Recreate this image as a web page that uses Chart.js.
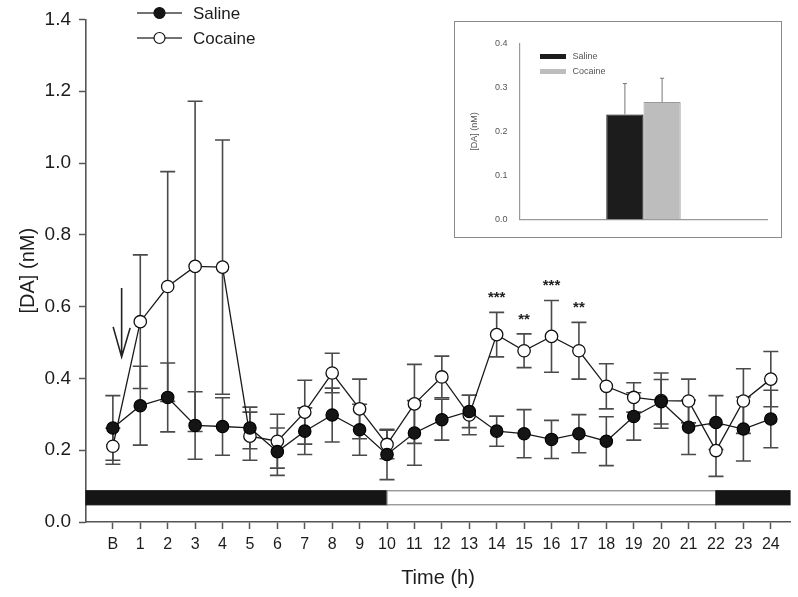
<!DOCTYPE html>
<html><head><meta charset="utf-8">
<script src="https://cdn.jsdelivr.net/npm/chart.js@4.4.0/dist/chart.umd.min.js"></script>
<style>
html,body{margin:0;padding:0;background:#fff;}
#wrap{position:relative;width:798px;height:597px;overflow:hidden;}
#main{position:absolute;left:0;top:0;}
#insetBox{position:absolute;left:454px;top:21px;width:326px;height:215px;border:1.5px solid #8a8a8a;background:#fff;}
#inset{position:absolute;left:0;top:0;}
</style></head><body>
<div id="wrap">
<canvas id="main" width="798" height="597"></canvas>
<div id="insetBox"><canvas id="inset" width="326" height="215"></canvas></div>
</div>
<script>
// ---------- data ----------
const xLabels = ['B','1','2','3','4','5','6','7','8','9','10','11','12','13','14','15','16','17','18','19','20','21','22','23','24'];
const salineMean = [0.262,0.324,0.347,0.269,0.266,0.262,0.196,0.253,0.298,0.257,0.188,0.248,0.285,0.308,0.253,0.246,0.230,0.246,0.225,0.294,0.335,0.264,0.277,0.259,0.287];
const salineSem  = [0.090,0.110,0.096,0.094,0.080,0.058,0.066,0.065,0.075,0.071,0.070,0.090,0.057,0.045,0.042,0.067,0.053,0.053,0.068,0.066,0.062,0.076,0.075,0.089,0.080];
const cocaineMean = [0.211,0.558,0.656,0.712,0.710,0.239,0.225,0.306,0.415,0.315,0.216,0.329,0.404,0.298,0.522,0.477,0.517,0.477,0.378,0.347,0.338,0.337,0.199,0.337,0.398];
const cocaineSem  = [0.050,0.186,0.320,0.460,0.354,0.067,0.075,0.089,0.055,0.083,0.040,0.110,0.058,0.055,0.062,0.047,0.100,0.079,0.063,0.041,0.077,0.061,0.072,0.090,0.077];
const yTickValues = [0,0.2,0.4,0.6,0.8,1.0,1.2,1.4];
const sigHours = [14,15,16,17];
const sigLabels = ['***','**','***','**'];
// light/dark cycle bar (hours)
const phaseStart = [-0.98,10,22];
const phaseEnd   = [10,22,24.7];
const phaseDark  = [true,false,true];
const phaseLow = 0.048, phaseHigh = 0.087;
// injection arrow (hour, [DA] from, [DA] to)
const arrowHour = 0.32, arrowFrom = 0.652, arrowTo = 0.46;
// inset
const insetGroups = ['Saline','Cocaine'];
const insetMean = [0.239,0.267];
const insetSem  = [0.070,0.054];
const insetTicks = [0,0.1,0.2,0.3,0.4];

const FONT = "'Liberation Sans', Arial, sans-serif";
const TXT = '#1c1c1c';
const AX = '#555';

const toXY = (arr) => arr.map((v,i)=>({x:i,y:v}));

// ---------- plugins (main) ----------
const phasePlugin = {
  id:'phaseBar',
  beforeDatasetsDraw(chart){
    const {ctx, scales:{x,y}} = chart;
    ctx.save();
    const top = y.getPixelForValue(phaseHigh), bot = y.getPixelForValue(phaseLow);
    for(let i=0;i<phaseStart.length;i++){
      const l = x.getPixelForValue(phaseStart[i]), r = x.getPixelForValue(phaseEnd[i]);
      ctx.fillStyle = phaseDark[i] ? '#151515' : '#ffffff';
      ctx.fillRect(l, top, r-l, bot-top);
      ctx.strokeStyle = phaseDark[i] ? '#151515' : '#888';
      ctx.lineWidth = 1.2;
      ctx.strokeRect(l, top, r-l, bot-top);
    }
    ctx.restore();
  }
};

const errPlugin = {
  id:'errBars',
  beforeDatasetsDraw(chart){
    const {ctx, scales:{x,y}} = chart;
    ctx.save();
    ctx.strokeStyle = '#4a4a4a';
    ctx.lineWidth = 1.6;
    const series = [[salineMean,salineSem],[cocaineMean,cocaineSem]];
    series.forEach(([m,s])=>{
      m.forEach((v,i)=>{
        const px = x.getPixelForValue(i);
        const hi = y.getPixelForValue(v+s[i]), lo = y.getPixelForValue(v-s[i]);
        ctx.beginPath();
        ctx.moveTo(px,hi); ctx.lineTo(px,lo);
        ctx.moveTo(px-7.5,hi); ctx.lineTo(px+7.5,hi);
        ctx.moveTo(px-7.5,lo); ctx.lineTo(px+7.5,lo);
        ctx.stroke();
      });
    });
    ctx.restore();
  }
};

const annotPlugin = {
  id:'annot',
  afterDatasetsDraw(chart){
    const {ctx, scales:{x,y}} = chart;
    ctx.save();
    // arrow
    const ax = x.getPixelForValue(arrowHour);
    const a1 = y.getPixelForValue(arrowFrom), a2 = y.getPixelForValue(arrowTo);
    ctx.strokeStyle = '#222'; ctx.lineWidth = 1.6;
    ctx.beginPath();
    ctx.moveTo(ax,a1); ctx.lineTo(ax,a2);
    ctx.moveTo(ax-8.5,a2-30); ctx.lineTo(ax,a2); ctx.lineTo(ax+8.5,a2-29);
    ctx.stroke();
    // significance stars
    ctx.fillStyle = '#222';
    ctx.font = 'bold 15px ' + FONT;
    ctx.textAlign = 'center';
    ctx.textBaseline = 'alphabetic';
    sigHours.forEach((h,k)=>{
      const top = y.getPixelForValue(cocaineMean[h]+cocaineSem[h]);
      ctx.fillText(sigLabels[k], x.getPixelForValue(h), top-10);
    });
    // legend
    const items = [[chart.data.datasets[0], 13],[chart.data.datasets[1], 38]];
    items.forEach(([ds,yy])=>{
      ctx.strokeStyle = '#444'; ctx.lineWidth = 1.6;
      ctx.beginPath(); ctx.moveTo(137,yy); ctx.lineTo(182,yy); ctx.stroke();
      ctx.beginPath(); ctx.arc(159.5,yy,5.5,0,Math.PI*2);
      ctx.fillStyle = ds.pointBackgroundColor; ctx.fill();
      ctx.strokeStyle = '#111'; ctx.lineWidth = 1.2; ctx.stroke();
      ctx.fillStyle = TXT;
      ctx.font = '17px ' + FONT;
      ctx.textAlign = 'left'; ctx.textBaseline = 'middle';
      ctx.fillText(ds.label, 193, yy+1);
    });
    ctx.restore();
  }
};

new Chart(document.getElementById('main'), {
  type:'line',
  data:{datasets:[
    {label:'Saline', data:toXY(salineMean), borderColor:'#1a1a1a', borderWidth:1.3,
     pointRadius:6.2, pointBackgroundColor:'#151515', pointBorderColor:'#000', pointBorderWidth:1.2, tension:0},
    {label:'Cocaine', data:toXY(cocaineMean), borderColor:'#1a1a1a', borderWidth:1.3,
     pointRadius:6.2, pointBackgroundColor:'#ffffff', pointBorderColor:'#111', pointBorderWidth:1.3, tension:0}
  ]},
  options:{
    responsive:false, animation:false, devicePixelRatio:1,
    layout:{padding:{left:0,right:8,top:11,bottom:0}},
    plugins:{legend:{display:false}, tooltip:{enabled:false}},
    scales:{
      x:{type:'linear', min:-0.98, max:24.7,
        afterBuildTicks:(ax)=>{ ax.ticks = xLabels.map((_,i)=>({value:i})); },
        afterFit:(s)=>{ s.height = 75; },
        ticks:{callback:(v)=>xLabels[v], autoSkip:false, maxRotation:0, padding:6, color:TXT, font:{family:FONT,size:16}},
        grid:{display:true, drawOnChartArea:false, drawTicks:true, tickLength:7, color:AX, tickWidth:1.5},
        border:{display:true, color:AX, width:1.6},
        title:{display:true, text:'Time (h)', color:TXT, font:{family:FONT,size:20}, padding:{top:0,bottom:7}}
      },
      y:{type:'linear', min:0, max:1.4,
        afterBuildTicks:(ax)=>{ ax.ticks = yTickValues.map(v=>({value:v})); },
        afterFit:(s)=>{ s.width = 86; },
        ticks:{callback:(v)=>Number(v).toFixed(1), padding:8, color:TXT, font:{family:FONT,size:19}},
        grid:{display:true, drawOnChartArea:false, drawTicks:true, tickLength:7, color:AX, tickWidth:1.5},
        border:{display:true, color:AX, width:1.6},
        title:{display:true, text:'[DA] (nM)', color:TXT, font:{family:FONT,size:20}, padding:{top:16,bottom:0}}
      }
    }
  },
  plugins:[phasePlugin, errPlugin, annotPlugin]
});

// ---------- inset ----------
const insetPlugin = {
  id:'insetExtras',
  afterDatasetsDraw(chart){
    const {ctx, scales:{y}} = chart;
    ctx.save();
    ctx.strokeStyle = '#777'; ctx.lineWidth = 1;
    chart.data.datasets.forEach((ds,i)=>{
      const meta = chart.getDatasetMeta(i);
      const bar = meta.data[0];
      const px = bar.x;
      const top = y.getPixelForValue(insetMean[i]+insetSem[i]);
      const base = y.getPixelForValue(insetMean[i]);
      ctx.beginPath();
      ctx.moveTo(px,base); ctx.lineTo(px,top);
      ctx.moveTo(px-2,top); ctx.lineTo(px+2,top);
      ctx.stroke();
    });
    // legend
    const rows = [34.5, 49.5];
    chart.data.datasets.forEach((ds,i)=>{
      ctx.fillStyle = ds.backgroundColor;
      ctx.fillRect(85, rows[i]-2.5, 26, 5);
      ctx.fillStyle = '#555';
      ctx.font = '9px ' + FONT;
      ctx.textAlign = 'left'; ctx.textBaseline = 'middle';
      ctx.fillText(ds.label, 117.5, rows[i]);
    });
    ctx.restore();
  }
};

new Chart(document.getElementById('inset'), {
  type:'bar',
  data:{labels:[''], datasets:[
    {label:insetGroups[0], data:[insetMean[0]], backgroundColor:'#1c1c1c', borderColor:'#000', borderWidth:1},
    {label:insetGroups[1], data:[insetMean[1]], backgroundColor:'#bdbdbd', borderColor:'#9a9a9a', borderWidth:1}
  ]},
  options:{
    responsive:false, animation:false, devicePixelRatio:1,
    layout:{padding:{left:0,right:13.5,top:21.5,bottom:0}},
    datasets:{bar:{categoryPercentage:0.3, barPercentage:1}},
    plugins:{legend:{display:false}, tooltip:{enabled:false}},
    scales:{
      x:{ticks:{display:false}, grid:{display:false}, border:{display:true,color:'#999',width:1.2},
         afterFit:(s)=>{ s.height = 16; }},
      y:{min:0, max:0.4,
         afterBuildTicks:(ax)=>{ ax.ticks = insetTicks.map(v=>({value:v})); },
         afterFit:(s)=>{ s.width = 64.5; },
         ticks:{callback:(v)=>Number(v).toFixed(1), padding:12, color:'#555', font:{family:FONT,size:9}},
         grid:{display:false, drawTicks:false}, border:{display:true,color:'#999',width:1.2},
         title:{display:true, text:'[DA] (nM)', color:'#555', font:{family:FONT,size:9}, padding:{top:14,bottom:0}}
      }
    }
  },
  plugins:[insetPlugin]
});
</script>
</body></html>
